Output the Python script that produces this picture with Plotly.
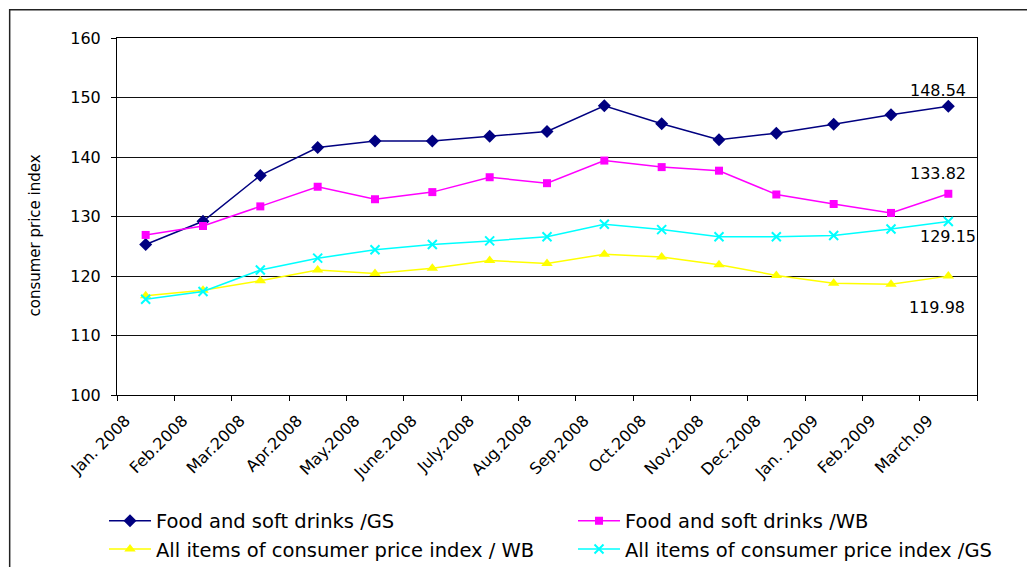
import plotly.graph_objects as go

months = ["Jan. 2008", "Feb.2008", "Mar.2008", "Apr.2008", "May.2008", "June.2008",
          "July.2008", "Aug.2008", "Sep.2008", "Oct.2008", "Nov.2008", "Dec.2008",
          "Jan. .2009", "Feb.2009", "March.09"]

food_gs = [125.3, 129.2, 136.9, 141.6, 142.7, 142.7, 143.5, 144.3, 148.6, 145.6,
           142.9, 144.0, 145.5, 147.1, 148.54]
food_wb = [126.9, 128.4, 131.7, 135.0, 132.9, 134.1, 136.6, 135.6, 139.4, 138.3,
           137.7, 133.7, 132.1, 130.6, 133.82]
all_wb = [116.7, 117.6, 119.2, 121.0, 120.4, 121.3, 122.6, 122.1, 123.65, 123.2,
          121.9, 120.1, 118.8, 118.6, 119.98]
all_gs = [116.1, 117.4, 121.0, 123.0, 124.4, 125.3, 125.9, 126.6, 128.7, 127.8,
          126.6, 126.6, 126.8, 127.9, 129.15]

y_title = "consumer price index"

FONT = "DejaVu Sans"

fig = go.Figure()
fig.add_trace(go.Scatter(x=months, y=food_gs, name="Food and soft drinks /GS",
                         mode="lines+markers", line=dict(color="#000080", width=1.5),
                         marker=dict(symbol="diamond", size=10, color="#000080")))
fig.add_trace(go.Scatter(x=months, y=food_wb, name="Food and soft drinks /WB",
                         mode="lines+markers", line=dict(color="#FF00FF", width=1.5),
                         marker=dict(symbol="square", size=8, color="#FF00FF")))
fig.add_trace(go.Scatter(x=months, y=all_wb, name="All items of consumer price index / WB",
                         mode="lines+markers", line=dict(color="#FFFF00", width=1.5),
                         marker=dict(symbol="triangle-up", size=10, color="#FFFF00")))
fig.add_trace(go.Scatter(x=months, y=all_gs, name="All items of consumer price index /GS",
                         mode="lines+markers", line=dict(color="#00FFFF", width=1.5),
                         marker=dict(symbol="x-thin", size=9, color="#00FFFF",
                                     line=dict(color="#00FFFF", width=2))))

# end-value labels
label_specs = [(food_gs, -10, 16), (food_wb, -10, 20), (all_gs, 0, -15), (all_wb, -11, -31)]
for series, xs, ys in label_specs:
    fig.add_annotation(x=months[-1], y=series[-1], text=f"{series[-1]:.2f}",
                       showarrow=False, xshift=xs, yshift=ys,
                       font=dict(family=FONT, size=16, color="#000"))

# y axis title (placed like the original, slightly below centre)
fig.add_annotation(xref="paper", yref="paper", x=-0.0953, y=0.4468, text=y_title,
                   textangle=-90, showarrow=False, xanchor="center", yanchor="middle",
                   font=dict(family=FONT, size=15, color="#000"))

# outer chart frame
fig.add_shape(type="rect", xref="paper", yref="paper",
              x0=-0.1248, x1=1.08, y0=-0.55, y1=1.079,
              line=dict(color="#222", width=1.5), fillcolor="rgba(0,0,0,0)", layer="above")

fig.update_layout(
    width=1035, height=567,
    margin=dict(l=109, r=66, t=30, b=179.5, autoexpand=False),
    paper_bgcolor="white", plot_bgcolor="white",
    font=dict(family=FONT, size=16, color="#000"),
    showlegend=True,
    legend=dict(orientation="h", xref="paper", yref="paper",
                x=-0.0151, y=-0.2983, xanchor="left", yanchor="top",
                font=dict(family=FONT, size=19.5, color="#000"),
                entrywidth=412, entrywidthmode="pixels",
                tracegroupgap=0, itemwidth=42,
                bgcolor="rgba(0,0,0,0)"),
    xaxis=dict(type="category", range=[-0.5, len(months) - 0.5], tickson="boundaries",
               ticks="outside", ticklen=5,
               tickcolor="#000", showline=True, linecolor="#000", linewidth=1,
               mirror=True, showgrid=False, tickangle=-45,
               tickfont=dict(family=FONT, size=16, color="#000"),
               ticklabelshift=-20, ticklabelstandoff=9),
    yaxis=dict(range=[100, 160], dtick=10, ticks="outside", ticklen=5, tickcolor="#000",
               showline=True, linecolor="#000", linewidth=1, mirror=True,
               showgrid=True, gridcolor="#111", gridwidth=1, zeroline=False,
               tickfont=dict(family=FONT, size=16, color="#000"),
               ticklabelstandoff=7),
)

fig.write_html("out.html")
